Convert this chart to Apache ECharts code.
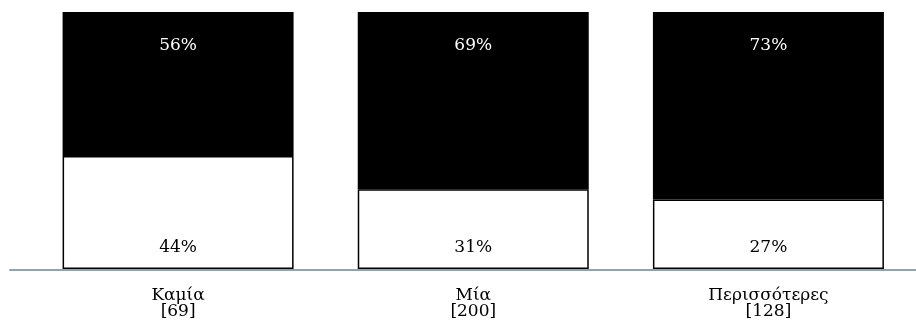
<!DOCTYPE html>
<html>
<head>
<meta charset="utf-8">
<script src="https://cdn.jsdelivr.net/npm/echarts@6/dist/echarts.min.js"></script>
<style>
  html, body { margin: 0; padding: 0; background: #ffffff; }
  #chart { width: 916px; height: 326px; }
</style>
</head>
<body>
<div id="chart"></div>
<script>
// Categories (number of children) with sample sizes
const categories = ['Καμία', 'Μία', 'Περισσότερες'];
const sampleSizes = [69, 200, 128];
// Share in each group (percent)
const lowerShare = [44, 31, 27];
const upperShare = [56, 69, 73];

const FONT = 'DejaVu Serif';
const chart = echarts.init(document.getElementById('chart'));

chart.setOption({
  animation: false,
  backgroundColor: '#ffffff',
  grid: [
    { left: 30.5, right: -3, top: 12, bottom: 57 },
    { left: 10, right: 0, top: 12, bottom: 56 }
  ],
  xAxis: [
    {
      type: 'category',
      gridIndex: 0,
      data: categories.map((c, i) => c + '\n[' + sampleSizes[i] + ']'),
      axisLine: { show: false },
      axisTick: { show: false },
      axisLabel: {
        margin: 19,
        color: '#000000',
        fontFamily: FONT,
        fontSize: 17,
        lineHeight: 16
      }
    },
    {
      type: 'value',
      gridIndex: 1,
      min: 0,
      max: 1,
      axisLine: { show: true, lineStyle: { color: '#8ea3b3', width: 2 } },
      axisTick: { show: false },
      axisLabel: { show: false },
      splitLine: { show: false }
    }
  ],
  yAxis: [
    { type: 'value', gridIndex: 0, min: 0, max: 100, show: false },
    { type: 'value', gridIndex: 1, min: 0, max: 1, show: false }
  ],
  series: [
    {
      type: 'bar',
      stack: 'total',
      xAxisIndex: 0,
      yAxisIndex: 0,
      data: lowerShare,
      barWidth: 231,
      z: 3,
      itemStyle: { color: '#ffffff', borderColor: '#000000', borderWidth: 1.5 },
      label: {
        show: true,
        position: 'insideBottom',
        distance: 13,
        formatter: '{c}%',
        color: '#000000',
        fontFamily: FONT,
        fontSize: 17
      }
    },
    {
      type: 'bar',
      stack: 'total',
      xAxisIndex: 0,
      yAxisIndex: 0,
      data: upperShare,
      barWidth: 231,
      z: 2,
      itemStyle: { color: '#000000' },
      label: {
        show: true,
        position: 'insideTop',
        distance: 25,
        formatter: '{c}%',
        color: '#ffffff',
        fontFamily: FONT,
        fontSize: 17
      }
    }
  ]
});
</script>
</body>
</html>
